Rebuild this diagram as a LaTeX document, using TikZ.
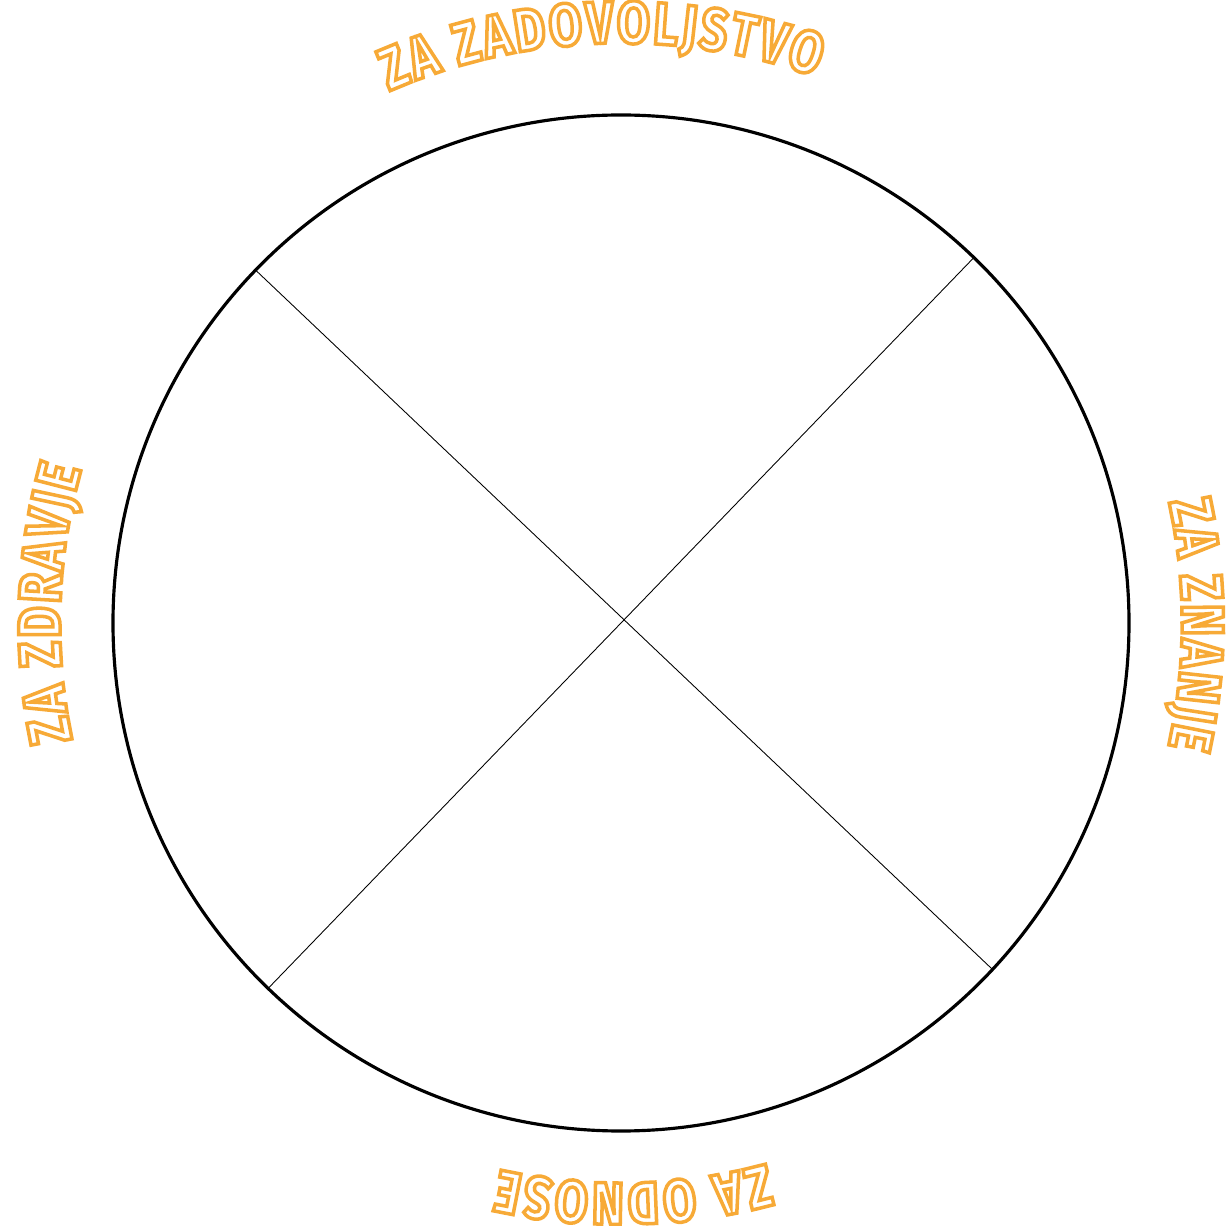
\documentclass[tikz,border=0pt]{standalone}
\usepackage{fontspec}
\usepackage{xcolor}
\usetikzlibrary{decorations.text}

\definecolor{zaorange}{RGB}{247,170,55}
\newfontfamily\zafont{Fira Sans}[FakeStretch=0.8]
% hollow letters: stroke the glyph outlines only
\newcommand\zaletters{\fontsize{34}{34}\zafont\bfseries
    \special{pdf:literal direct 1 Tr 2.0 w}\kern1.6pt}

\begin{document}
\begin{tikzpicture}[
    wheel/.style={draw, circle, line width=1.8pt, minimum size=20.32cm,
        inner sep=0pt, outer sep=0pt},
    spoke/.style={line width=0.5pt},
    zalabel/.style={decorate, decoration={text along path, text align=center,
        text color=zaorange, text={|\zaletters|#1}}}
]
    \useasboundingbox (-12.42,-12.06) rectangle (12.08,12.46);

    % The wheel and its two diagonals
    \node[wheel] (wheel) at (0,0) {};
    \draw[spoke] (wheel.136.2) -- (wheel.-43.8);
    \draw[spoke] (wheel.46.2) -- (wheel.226.2);

    % Labels round the rim, read clockwise
    \path[zalabel={ZA ZADOVOLJSTVO}] (132.1:11.6) arc[start angle=132.1, end angle=52.1, radius=11.6];
    \path[zalabel={ZA ZNANJE}] (40:11.22) arc[start angle=40, end angle=-40, radius=11.22];
    \path[zalabel={ZA ODNOSE}] (-48.6:11.2) arc[start angle=-48.6, end angle=-128.6, radius=11.2];
    \path[zalabel={ZA ZDRAVJE}] (218.2:11.22) arc[start angle=218.2, end angle=138.2, radius=11.22];

\end{tikzpicture}
\end{document}
